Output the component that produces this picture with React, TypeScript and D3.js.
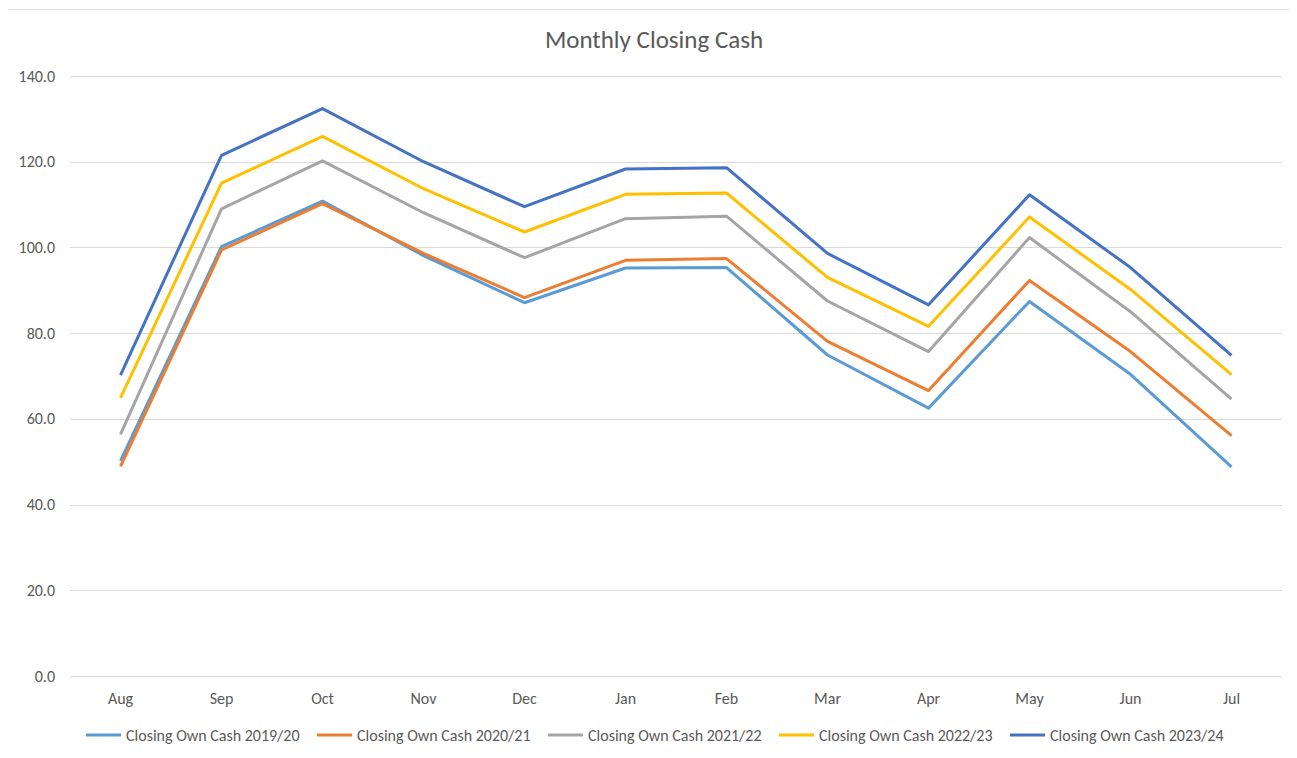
import { useRef, useEffect } from 'react';
import * as d3 from 'd3';

const months = ['Aug', 'Sep', 'Oct', 'Nov', 'Dec', 'Jan', 'Feb', 'Mar', 'Apr', 'May', 'Jun', 'Jul'];
const yTicks = [0, 20, 40, 60, 80, 100, 120, 140];

const cash1920 = [50.2, 100.2, 110.8, 98.1, 87.1, 95.2, 95.3, 74.9, 62.5, 87.4, 70.4, 48.8];
const cash2021 = [48.9, 99.4, 110.2, 98.6, 88.3, 97.0, 97.4, 78.1, 66.6, 92.3, 75.7, 56.1];
const cash2122 = [56.4, 109.0, 120.2, 108.1, 97.6, 106.7, 107.3, 87.5, 75.7, 102.3, 85.0, 64.6];
const cash2223 = [64.9, 115.0, 125.9, 113.7, 103.6, 112.4, 112.7, 93.0, 81.6, 107.1, 90.2, 70.3];
const cash2324 = [70.2, 121.5, 132.4, 120.0, 109.5, 118.3, 118.6, 98.6, 86.6, 112.3, 95.3, 74.8];

const seriesNames = [
  'Closing Own Cash 2019/20',
  'Closing Own Cash 2020/21',
  'Closing Own Cash 2021/22',
  'Closing Own Cash 2022/23',
  'Closing Own Cash 2023/24',
];
const seriesColors = ['#5B9BD5', '#ED7D31', '#A5A5A5', '#FFC000', '#4472C4'];

const W = 1297;
const H = 758;
const FONT = "Calibri, Carlito, 'Open Sans', sans-serif";

const App = () => {
  const svgRef = useRef<SVGSVGElement | null>(null);

  useEffect(() => {
    const svg = d3.select(svgRef.current);
    svg.selectAll('*').remove();

    const series = [cash1920, cash2021, cash2122, cash2223, cash2324];
    const margin = { top: 76, right: 15, bottom: 80, left: 70 };
    const innerW = W - margin.left - margin.right;
    const innerH = H - margin.top - margin.bottom - 2;

    // chart frame
    svg.append('rect')
      .attr('x', 6.5).attr('y', 9.5)
      .attr('width', W - 6).attr('height', H)
      .attr('fill', '#fff').attr('stroke', '#d9d9d9');

    svg.append('text')
      .attr('x', 654).attr('y', 48)
      .attr('text-anchor', 'middle')
      .attr('font-family', FONT)
      .attr('font-size', 25)
      .attr('fill', '#595959')
      .text('Monthly Closing Cash');

    const g = svg.append('g').attr('transform', `translate(${margin.left},${margin.top})`);

    const x = d3.scaleBand().domain(months).range([0, innerW]);
    const y = d3.scaleLinear().domain([0, 140]).range([innerH, 0]);

    // gridlines
    g.selectAll('.grid')
      .data(yTicks)
      .enter()
      .append('line')
      .attr('x1', 0).attr('x2', innerW)
      .attr('y1', d => Math.round(y(d)) + 0.5).attr('y2', d => Math.round(y(d)) + 0.5)
      .attr('stroke', '#d9d9d9').attr('stroke-width', 1);

    g.selectAll('.ylab')
      .data(yTicks)
      .enter()
      .append('text')
      .attr('x', -15).attr('y', d => y(d))
      .attr('dy', '0.35em')
      .attr('text-anchor', 'end')
      .attr('font-family', FONT).attr('font-size', 16)
      .attr('fill', '#595959')
      .text(d => d.toFixed(1));

    g.selectAll('.xlab')
      .data(months)
      .enter()
      .append('text')
      .attr('x', d => (x(d) ?? 0) + x.bandwidth() / 2)
      .attr('y', innerH + 28)
      .attr('text-anchor', 'middle')
      .attr('font-family', FONT).attr('font-size', 16)
      .attr('fill', '#595959')
      .text(d => d);

    const line = d3.line<number>()
      .x((_, i) => (x(months[i]) ?? 0) + x.bandwidth() / 2)
      .y(d => y(d));

    series.forEach((vals, i) => {
      g.append('path')
        .datum(vals)
        .attr('fill', 'none')
        .attr('stroke', seriesColors[i])
        .attr('stroke-width', 3)
        .attr('stroke-linejoin', 'round')
        .attr('d', line);
    });

    // legend
    const legend = svg.append('g').attr('transform', 'translate(86,735)');
    seriesNames.forEach((name, i) => {
      const lg = legend.append('g').attr('transform', `translate(${i * 231},0)`);
      lg.append('line')
        .attr('x1', 0).attr('x2', 35)
        .attr('y1', 0).attr('y2', 0)
        .attr('stroke', seriesColors[i]).attr('stroke-width', 3);
      lg.append('text')
        .attr('x', 40).attr('y', 0)
        .attr('dy', '0.35em')
        .attr('font-family', FONT).attr('font-size', 16)
        .attr('fill', '#595959')
        .text(name);
    });
  }, []);

  return (
    <div style={{ margin: -8, background: '#fff' }}>
      <svg ref={svgRef} width={W} height={H} style={{ display: 'block' }}></svg>
    </div>
  );
};

export default App;
